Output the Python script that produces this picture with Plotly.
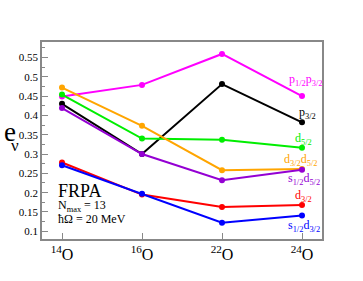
import plotly.graph_objects as go

categories = ["14", "16", "22", "24"]
series_names = ["p1/2p3/2", "p3/2", "d5/2", "d3/2d5/2", "s1/2d5/2", "d3/2", "s1/2d3/2"]
p12p32 = [0.449, 0.479, 0.559, 0.450]
p32 = [0.430, 0.300, 0.481, 0.382]
d52 = [0.454, 0.340, 0.337, 0.316]
d32d52 = [0.472, 0.373, 0.258, 0.261]
s12d52 = [0.419, 0.300, 0.232, 0.259]
d32 = [0.278, 0.195, 0.163, 0.168]
s12d32 = [0.271, 0.197, 0.122, 0.141]
y_ticks = [0.1, 0.15, 0.2, 0.25, 0.3, 0.35, 0.4, 0.45, 0.5, 0.55]
y_tick_labels = ["0.1", "0.15", "0.2", "0.25", "0.3", "0.35", "0.4", "0.45", "0.5", "0.55"]

series = [p12p32, p32, d52, d32d52, s12d52, d32, s12d32]
colors = ["#ff00ff", "#000000", "#00ee00", "#ffa500", "#9400d3", "#ff0000", "#0000ff"]
labels = ["p<sub>1/2</sub>p<sub>3/2</sub>", "p<sub>3/2</sub>", "d<sub>5/2</sub>",
          "d<sub>3/2</sub>d<sub>5/2</sub>", "s<sub>1/2</sub>d<sub>5/2</sub>",
          "d<sub>3/2</sub>", "s<sub>1/2</sub>d<sub>3/2</sub>"]
label_y = [0.491, 0.405, 0.338, 0.284, 0.235, 0.191, 0.113]
label_x = [3.04, 3.07, 3.02, 2.98, 3.02, 3.02, 3.02]

xs = list(range(len(categories)))
fig = go.Figure()
for name, vals, c in zip(series_names, series, colors):
    fig.add_trace(go.Scatter(x=xs, y=vals, mode="lines+markers", name=name,
                             line=dict(color=c, width=2), marker=dict(color=c, size=6)))

font_serif = "Liberation Serif"
for lab, lx, ly, c in zip(labels, label_x, label_y, colors):
    fig.add_annotation(x=lx, y=ly, text=lab, showarrow=False, xref="x", yref="y",
                       font=dict(family=font_serif, size=12, color=c))

fig.add_annotation(x=-0.08, y=0.205, text="FRPA", showarrow=False, xanchor="left",
                   font=dict(family=font_serif, size=18, color="black"))
fig.add_annotation(x=-0.08, y=0.165, text="N<sub>max</sub> = 13", showarrow=False, xanchor="left",
                   font=dict(family=font_serif, size=12, color="black"))
fig.add_annotation(x=-0.08, y=0.133, text="ħΩ = 20 MeV", showarrow=False, xanchor="left",
                   font=dict(family=font_serif, size=12, color="black"))
# axis title e_nu (e with subscript nu placed below-right)
fig.add_annotation(x=(9.5 - 42) / 280, y=1 - (132 - 42) / 197, xref="paper", yref="paper",
                   xanchor="center", yanchor="middle", text="e", showarrow=False,
                   font=dict(family=font_serif, size=27, color="black"))
fig.add_annotation(x=(14.5 - 42) / 280, y=1 - (145 - 42) / 197, xref="paper", yref="paper",
                   xanchor="center", yanchor="middle", text="ν", showarrow=False,
                   font=dict(family=font_serif, size=17, color="black"))

fig.update_layout(
    width=363, height=281,
    margin=dict(l=42, r=41, t=42, b=42),
    plot_bgcolor="white", paper_bgcolor="white",
    showlegend=False, hovermode=False,
    font=dict(family=font_serif, color="black"),
)
fig.update_xaxes(range=[-0.25, 3.25], tickvals=xs,
                 ticktext=["<sup>%s</sup>O" % c for c in categories],
                 tickfont=dict(family=font_serif, size=16, color="black"),
                 showgrid=False, zeroline=False, showline=True, mirror=True,
                 linecolor="#888888", linewidth=1.5, ticks="inside", ticklen=6,
                 tickcolor="#888888")
fig.update_yaxes(range=[0.08, 0.59], tickvals=y_ticks, ticktext=y_tick_labels,
                 tickfont=dict(family=font_serif, size=11, color="black"),
                 showgrid=False, zeroline=False, showline=True, mirror=True,
                 linecolor="#888888", linewidth=1.5, ticks="inside", ticklen=6,
                 tickcolor="#888888",
                 minor=dict(ticks="inside", ticklen=3, dtick=0.025, tick0=0.075,
                            tickcolor="#888888", showgrid=False))
fig.write_html("out.html", config={"displayModeBar": False},
               post_script="document.body.style.margin='0';")
